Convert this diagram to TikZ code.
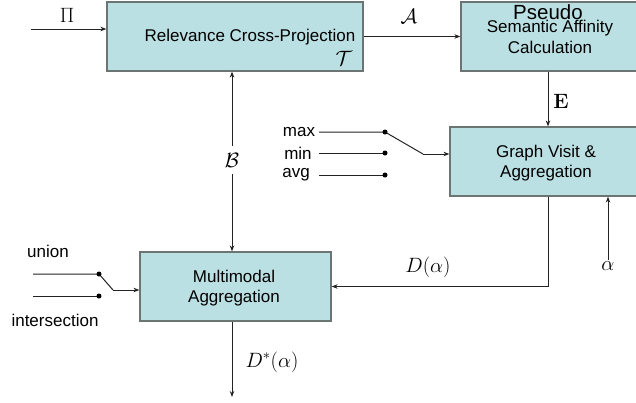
\documentclass[tikz,border=0pt]{standalone}
\usepackage{amsmath}
\usepackage[no-math]{fontspec}
\setmainfont{Liberation Sans}
\usetikzlibrary{arrows.meta}
\definecolor{boxfill}{RGB}{187,224,227}
\definecolor{boxline}{RGB}{108,116,116}
\definecolor{wire}{RGB}{35,35,35}
\tikzset{
  block/.style={draw=boxline, line width=1.2pt, fill=boxfill, inner sep=0pt},
  txt/.style={font=\fontsize{17}{20}\selectfont, align=center, inner sep=0pt},
  sym/.style={font=\fontsize{21}{23}\selectfont, inner sep=1pt},
  flow/.style={draw=wire, line width=1pt, -{Stealth[length=6pt,width=4.5pt]}},
  wireline/.style={draw=wire, line width=1pt},
  pin/.style={circle, fill=black, inner sep=0pt, minimum size=5pt},
}
\begin{document}
\begin{tikzpicture}[x=1pt,y=-1pt]
  \clip (0,0) rectangle (636,402);
  % blocks
  \node[block, minimum width=256pt, minimum height=69pt] (rcp) at (235,36.5) {};
  \node[block, minimum width=179pt, minimum height=69pt] (psc) at (550.5,36.5) {};
  \node[block, minimum width=190pt, minimum height=69pt] (gva) at (545,161.5) {};
  \node[block, minimum width=191pt, minimum height=69pt] (mma) at (235.5,286.5) {};
  % block texts
  \node[txt] (rcptxt) at (250,37) {Relevance Cross-Projection};
  \node[sym] (tau) at (344,58) {$\mathcal{T}$};
  \node[txt, font=\fontsize{20.5}{22}\selectfont] (pstxt) at (548,12) {Pseudo};
  \node[txt, font=\fontsize{17}{21}\selectfont] (satxt) at (550,36.5) {Semantic Affinity\\Calculation};
  \node[txt] (gvatxt) at (546,163) {Graph Visit \&\\Aggregation};
  \node[txt] (mmatxt) at (234,288) {Multimodal\\Aggregation};
  % helper coordinates
  \coordinate (in) at (31,29);
  \coordinate (ex) at (548,0);
  \coordinate (bx) at (232,0);
  \coordinate (out) at (232,397);
  % input and forward flow
  \node[sym] (pi) at (67,15) {$\Pi$};
  \draw[flow] (in) -- (in -| rcp.west);
  \node[sym] (aff) at (409,16) {$\mathcal{A}$};
  \draw[flow] (rcp.east) -- (psc.west);
  \node[sym] (emat) at (561,101) {$\mathbf{E}$};
  \draw[flow] (psc.south -| ex) -- (gva.north -| ex);
  % aggregation switch
  \node[txt] (lmax) at (299,132) {max};
  \node[txt] (lmin) at (298,153) {min};
  \node[txt] (lavg) at (296,175) {avg};
  \coordinate (smax) at (319,132);
  \coordinate (smin) at (319,153);
  \coordinate (savg) at (319,175);
  \coordinate (sw) at (423,154);
  \draw[wireline] (smax) -- (385,132) -- (sw);
  \draw[wireline] (smin) -- (385,153);
  \draw[wireline] (savg) -- (385,175);
  \draw[flow] (sw) -- (sw -| gva.west);
  \node[pin] (pmax) at (385,132) {};
  \node[pin] (pmin) at (385,153) {};
  \node[pin] (pavg) at (385,175) {};
  % threshold
  \node[sym] (alpha) at (608,266) {$\alpha$};
  \draw[flow] (alpha.north) -- (alpha.north |- gva.south);
  % back to multimodal
  \node[sym] (dal) at (428,267) {$D(\alpha)$};
  \draw[flow] (gva.south -| ex) |- (mma.east);
  % B link
  \node[sym, inner sep=7pt] (bl) at (232,160) {$\mathcal{B}$};
  \draw[flow] (bl.north) -- (bl.north |- rcp.south);
  \draw[flow] (bl.south) -- (bl.south |- mma.north);
  % union / intersection switch
  \node[txt] (lun) at (48,251) {union};
  \node[txt] (lint) at (55,320) {intersection};
  \coordinate (sun) at (33,274);
  \coordinate (sint) at (33,296);
  \coordinate (sw2) at (113,290);
  \draw[wireline] (sun) -- (99,274) -- (sw2);
  \draw[wireline] (sint) -- (99,296);
  \draw[flow] (sw2) -- (sw2 -| mma.west);
  \node[pin] (pun) at (99,274) {};
  \node[pin] (pint) at (99,296) {};
  % output
  \node[sym] (dstar) at (272,362) {$D^{*}(\alpha)$};
  \draw[flow] (mma.south -| bx) -- (out);
\end{tikzpicture}
\end{document}
